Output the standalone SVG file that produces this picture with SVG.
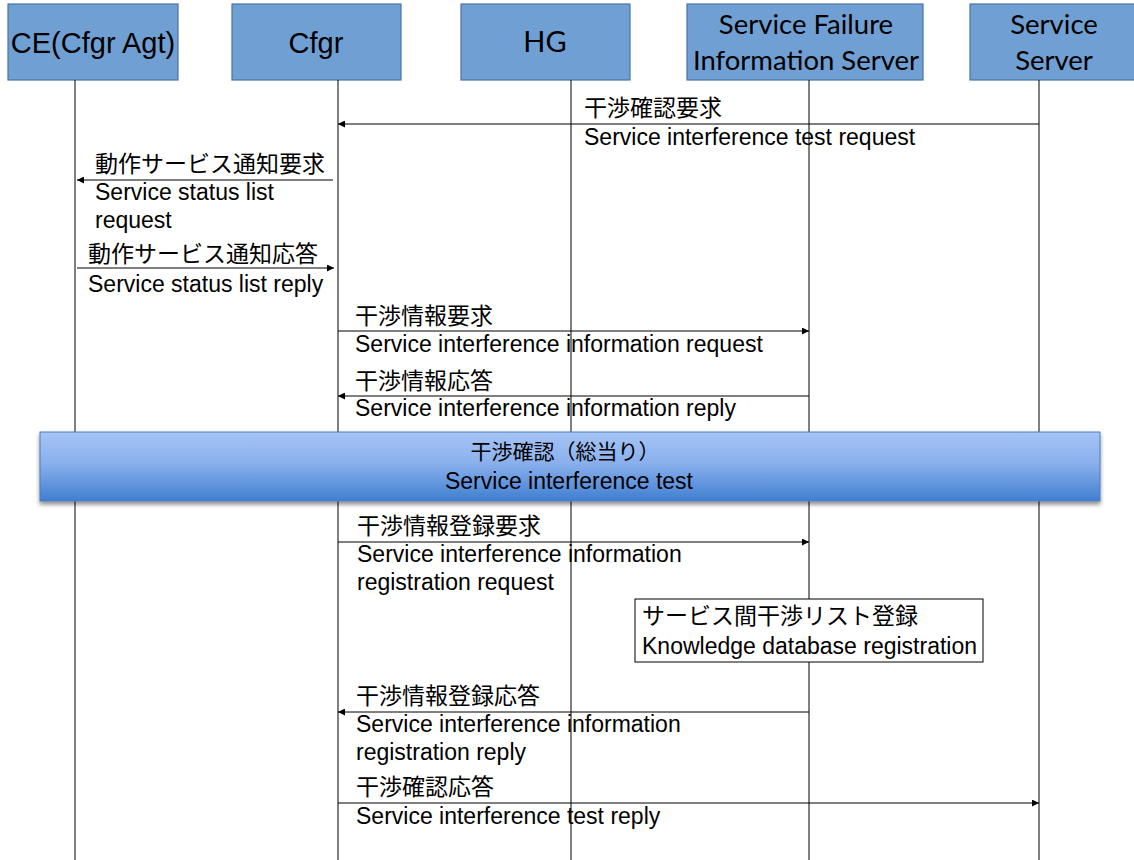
<svg xmlns="http://www.w3.org/2000/svg" width="1134" height="860" viewBox="0 0 1134 860">
  <defs>
    <style>
      .hdr { fill: #709fd3; stroke: #4a72a8; stroke-width: 1.2; }
      .hdrA { font-family: "Liberation Sans", Arial, sans-serif; font-size: 29px; fill: #000; text-anchor: middle; }
      .hdrB { font-family: Lato, "Liberation Sans", sans-serif; font-size: 27.5px; fill: #000; text-anchor: middle; }
      .life { stroke: #000; stroke-width: 1; fill: none; }
      .msg { stroke: #000; stroke-width: 1; fill: none; }
      .jp { font-family: "Liberation Sans", "Noto Sans CJK JP", sans-serif; font-size: 23px; fill: #000; }
      .en { font-family: "Liberation Sans", Arial, sans-serif; font-size: 23px; fill: #000; }
      .note { fill: #fff; stroke: #000; stroke-width: 1; }
    </style>
    <marker id="ah" viewBox="0 0 10 10" refX="10" refY="5" markerWidth="9" markerHeight="7" markerUnits="userSpaceOnUse" orient="auto">
      <path d="M0,0 L10,5 L0,10 Z" fill="#000"/>
    </marker>
    <linearGradient id="bandFill" x1="0" y1="0" x2="0" y2="1">
      <stop offset="0" stop-color="#a6c4f7"/>
      <stop offset="0.45" stop-color="#8ab0ec"/>
      <stop offset="1" stop-color="#3f7fd0"/>
    </linearGradient>
    <filter id="shadow" x="-5%" y="-20%" width="110%" height="150%">
      <feGaussianBlur in="SourceAlpha" stdDeviation="2"/>
      <feOffset dx="0" dy="3" result="b"/>
      <feComponentTransfer><feFuncA type="linear" slope="0.45"/></feComponentTransfer>
      <feMerge><feMergeNode/><feMergeNode in="SourceGraphic"/></feMerge>
    </filter>
  </defs>

  <rect width="1134" height="860" fill="#fff"/>

  <!-- participant headers -->
  <g id="ce">
    <rect class="hdr" x="8" y="4" width="170" height="76"/>
    <text class="hdrA" x="93" y="53">CE(Cfgr Agt)</text>
  </g>
  <g id="cfgr">
    <rect class="hdr" x="232" y="4" width="169" height="76"/>
    <text class="hdrA" x="316" y="53">Cfgr</text>
  </g>
  <g id="hg">
    <rect class="hdr" x="461" y="4" width="169" height="76"/>
    <text class="hdrB" x="545" y="52" style="font-size:29px">HG</text>
  </g>
  <g id="sfis">
    <rect class="hdr" x="687" y="4" width="236" height="76"/>
    <text class="hdrB" x="806" y="34">Service Failure</text>
    <text class="hdrB" x="806" y="70">Information Server</text>
  </g>
  <g id="ss">
    <rect class="hdr" x="970" y="4" width="168" height="76"/>
    <text class="hdrB" x="1054" y="34">Service</text>
    <text class="hdrB" x="1054" y="70">Server</text>
  </g>

  <!-- message labels -->
  <g id="labels">
    <text class="jp" x="584" y="116">干渉確認要求</text>
    <text class="en" x="584" y="145">Service interference test request</text>

    <text class="jp" x="95" y="172">動作サービス通知要求</text>
    <text class="en" x="95" y="200">Service status list</text>
    <text class="en" x="95" y="228">request</text>

    <text class="jp" x="88" y="262">動作サービス通知応答</text>
    <text class="en" x="88" y="292">Service status list reply</text>

    <text class="jp" x="355" y="324">干渉情報要求</text>
    <text class="en" x="355" y="352">Service interference information request</text>

    <text class="jp" x="355" y="389">干渉情報応答</text>
    <text class="en" x="355" y="416">Service interference information reply</text>

    <text class="jp" x="357" y="534">干渉情報登録要求</text>
    <text class="en" x="357" y="562">Service interference information</text>
    <text class="en" x="357" y="590">registration request</text>

    <text class="jp" x="356" y="704">干渉情報登録応答</text>
    <text class="en" x="356" y="732">Service interference information</text>
    <text class="en" x="356" y="760">registration reply</text>

    <text class="jp" x="356" y="795">干渉確認応答</text>
    <text class="en" x="356" y="824">Service interference test reply</text>
  </g>

  <!-- lifelines and messages -->
  <g id="connectors">
    <line class="life" x1="75" y1="80" x2="75" y2="860"/>
    <line class="life" x1="338" y1="80" x2="338" y2="860"/>
    <line class="life" x1="571" y1="80" x2="571" y2="860"/>
    <line class="life" x1="809" y1="80" x2="809" y2="860"/>
    <line class="life" x1="1039" y1="80" x2="1039" y2="860"/>

    <line class="msg" x1="1039" y1="124" x2="338" y2="124" marker-end="url(#ah)"/>
    <line class="msg" x1="333" y1="180" x2="77" y2="180" marker-end="url(#ah)"/>
    <line class="msg" x1="77" y1="268" x2="334" y2="268" marker-end="url(#ah)"/>
    <line class="msg" x1="338" y1="331" x2="809" y2="331" marker-end="url(#ah)"/>
    <line class="msg" x1="809" y1="396" x2="338" y2="396" marker-end="url(#ah)"/>
    <line class="msg" x1="338" y1="542" x2="809" y2="542" marker-end="url(#ah)"/>
    <line class="msg" x1="809" y1="712" x2="338" y2="712" marker-end="url(#ah)"/>
    <line class="msg" x1="338" y1="803" x2="1039" y2="803" marker-end="url(#ah)"/>
  </g>

  <!-- interference test band across all lifelines -->
  <g id="band">
    <rect x="40" y="432" width="1060" height="69" fill="url(#bandFill)" stroke="#4a7ebf" stroke-width="1" filter="url(#shadow)"/>
    <text class="jp" x="565" y="459" text-anchor="middle" style="font-size:21px">干渉確認（総当り）</text>
    <text class="en" x="569" y="489" text-anchor="middle" style="font-size:23px">Service interference test</text>
  </g>

  <!-- knowledge database registration note -->
  <g id="note">
    <rect class="note" x="635" y="599" width="348" height="63"/>
    <text class="jp" x="642" y="624">サービス間干渉リスト登録</text>
    <text class="en" x="642" y="654">Knowledge database registration</text>
  </g>
</svg>
